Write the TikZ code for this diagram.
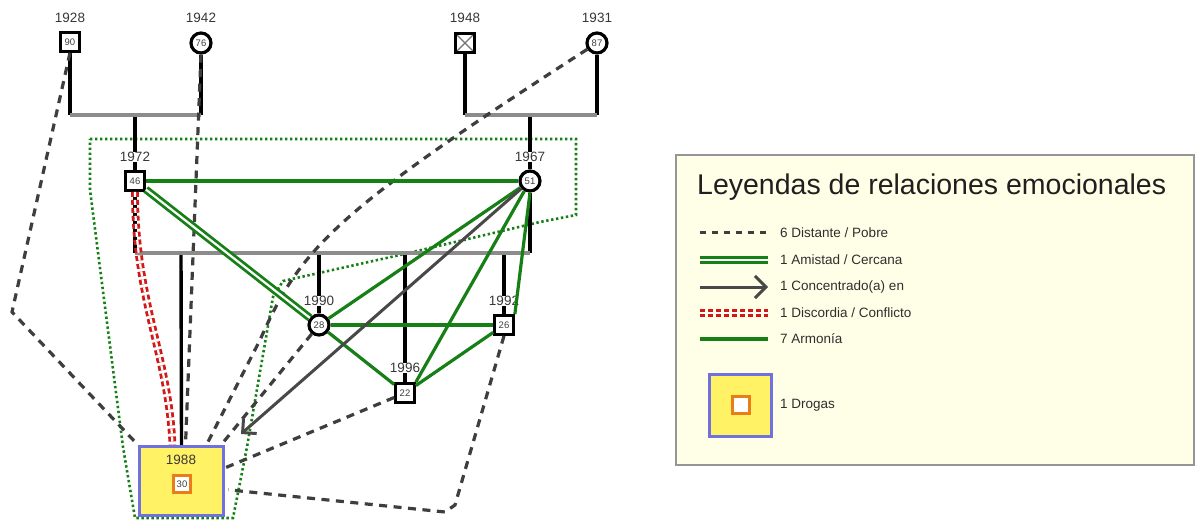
\documentclass[tikz,border=0pt]{standalone}
\usepackage{fontspec}
\setmainfont{Liberation Sans}
\usetikzlibrary{arrows.meta,calc}

\definecolor{harmony}{RGB}{22,128,22}
\definecolor{distant}{RGB}{62,62,62}
\definecolor{focusline}{RGB}{72,72,72}
\definecolor{conflict}{RGB}{210,25,25}
\definecolor{bond}{RGB}{140,140,140}
\definecolor{legendbg}{RGB}{255,255,232}
\definecolor{legendedge}{RGB}{150,150,150}
\definecolor{drugfill}{RGB}{255,242,100}
\definecolor{drugedge}{RGB}{112,112,222}
\definecolor{drugmark}{RGB}{235,125,25}

\tikzset{
  person/.style={draw=black, line width=3.2pt, fill=white, inner sep=0pt,
    text=black!75, font=\fontsize{9.5}{10}\selectfont},
  male/.style={person, rectangle, minimum size=18.5pt},
  female/.style={person, circle, minimum size=20pt},
  deceased/.style={path picture={
      \draw[black!55, line width=1.1pt]
        (path picture bounding box.north west) -- (path picture bounding box.south east)
        (path picture bounding box.north east) -- (path picture bounding box.south west);}},
  year/.style={font=\fontsize{13.5}{14}\selectfont, text=black!78, fill=white, inner sep=0.6pt},
  descent/.style={black, line width=3.4pt},
  union/.style={bond, line width=3.2pt},
  distantrel/.style={distant, line width=3.2pt, dash pattern=on 8pt off 6.5pt},
  harmonyrel/.style={harmony, line width=3.2pt},
  friendrel/.style={harmony, line width=2.8pt, double=white, double distance=2.2pt},
  conflictrel/.style={conflict, line width=2.8pt, double=white, double distance=2.2pt,
    dash pattern=on 5pt off 3pt},
  focusrel/.style={focusline, line width=3pt, -{Straight Barb[length=10pt,width=20pt]}},
  household/.style={harmony, line width=2.6pt, dash pattern=on 2.4pt off 2.6pt},
  drugbox/.style={draw=drugedge, line width=3.4pt, fill=drugfill, inner sep=0pt},
  drugmarkbox/.style={draw=drugmark, line width=3.4pt, fill=white, inner sep=0pt,
    text=black!75, font=\fontsize{9.5}{10}\selectfont},
  legendtext/.style={anchor=west, font=\fontsize{13.5}{14}\selectfont, text=black!82, inner sep=0pt},
}

\begin{document}
\begin{tikzpicture}[x=1pt, y=-1pt]
\useasboundingbox (0,0) rectangle (1196,521);
\fill[white] (0,0) rectangle (1196,521);

% household boundary
\draw[household] (90,139) -- (576,139) -- (576,215) -- (540,222) -- (400,255)
  -- (283,281) -- (273,297) -- (247,447) -- (233,518) -- (135,518) -- (123,447)
  -- (90,190) -- cycle;

% people
\node[male]   (n1928) at (70,42)  {90};
\node[female] (n1942) at (201,43) {76};
\node[male, deceased] (n1948) at (465,43) {};
\node[female] (n1931) at (597,43) {87};
\node[male]   (n1972) at (135,181) {46};
\node[female] (n1967) at (530,181) {51};
\node[female] (n1990) at (319,325) {28};
\node[male]   (n1992) at (504,325) {26};
\node[male]   (n1996) at (405,393) {22};
\node[drugbox, minimum width=84pt, minimum height=69pt] (n1988) at (181.5,481) {};
\node[drugmarkbox, minimum size=17.5pt] (n1988in) at (182,484) {30};

% family lines
\coordinate (u1l) at (70,115);  \coordinate (u1r) at (201,115); \coordinate (u1m) at (135,115);
\coordinate (u2l) at (465,115); \coordinate (u2r) at (597,115); \coordinate (u2m) at (530,115);
\coordinate (m1l) at (135,253); \coordinate (m1r) at (530,253);
\coordinate (c1988) at (181,253); \coordinate (c1990) at (319,253);
\coordinate (c1996) at (405,253); \coordinate (c1992) at (504,253);

\draw[descent] (n1928) -- (u1l);
\draw[descent] (n1942) -- (u1r);
\draw[descent] (u1m) -- (n1972);
\draw[descent] (n1948) -- (u2l);
\draw[descent] (n1931) -- (u2r);
\draw[descent] (u2m) -- (n1967);
\draw[descent] (n1972) -- (m1l);
\draw[descent] (n1967) -- (m1r);
\draw[descent] (c1988) -- (n1988.north);
\draw[descent] (c1990) -- (n1990);
\draw[descent] (c1996) -- (n1996);
\draw[descent] (c1992) -- (n1992);
\draw[union] (u1l) -- (u1r);
\draw[union] (u2l) -- (u2r);
\draw[union] (m1l) -- (m1r);

% birth years
\node[year] (y1928) at (70,18)  {1928};
\node[year] (y1942) at (201,18) {1942};
\node[year] (y1948) at (465,18) {1948};
\node[year] (y1931) at (597,18) {1931};
\node[year] (y1972) at (135,157) {1972};
\node[year] (y1967) at (530,157) {1967};
\node[year] (y1990) at (319,301) {1990};
\node[year] (y1992) at (504,301) {1992};
\node[year] (y1996) at (405,368) {1996};
\node[year, fill=none] (y1988) at (181,460) {1988};

% emotional relations
\coordinate (focuspt) at (241,434);
\coordinate (bend1928) at (12,312);
\coordinate (bend1992a) at (455,505);
\coordinate (bend1992b) at (445,512);

\draw[distantrel] (n1928.south) -- (bend1928) -- (n1988.north west);
\draw[distantrel] (n1942.south) -- ($(n1988.north)+(4,0)$);
\draw[distantrel] (n1931) .. controls (330,215) and (300,250) .. (260,340)
  -- ($(n1988.north)+(25,0)$);
\draw[distantrel] (n1990) -- ($(n1988.north east)+(-4,0)$);
\draw[distantrel] (n1996) -- ($(n1988.north east)+(0,23)$);
\draw[distantrel] (n1992.south) -- (bend1992a) -- (bend1992b) -- ($(n1988.north east)+(3,45)$);

\draw[harmonyrel] (n1972) -- (n1967);
\draw[harmonyrel] (n1967) -- (n1990);
\draw[harmonyrel] (n1967.south) -- (n1992.north east);
\draw[harmonyrel] (n1967) -- (n1996.north east);
\draw[harmonyrel] (n1990) -- (n1992);
\draw[harmonyrel] (n1990) -- (n1996);
\draw[harmonyrel] (n1992) -- (n1996);
\draw[friendrel] (n1972) -- (n1990);
\draw[conflictrel] (n1972.south) .. controls +(0,110) and +(-4,-90) .. ($(n1988.north)+(-9,0)$);
\draw[focusrel] (n1967) -- (focuspt);

% legend
\draw[legendedge, line width=1.4pt, fill=legendbg] (676,155) rectangle (1194,465);
\node[anchor=base west, font=\fontsize{28.5}{30}\selectfont, text=black!88, inner sep=0pt]
  (legtitle) at (697,195) {Leyendas de relaciones emocionales};

\draw[distant, line width=3pt, dash pattern=on 6pt off 6pt] (700,233) -- (770,233);
\node[legendtext] (leg1) at (780,233) {6 Distante / Pobre};
\draw[friendrel] (700,260) -- (768,260);
\node[legendtext] (leg2) at (780,260) {1 Amistad / Cercana};
\draw[focusline, line width=3pt, -{Straight Barb[length=11pt,width=22pt]}] (700,287) -- (768,287);
\node[legendtext] (leg3) at (780,287) {1 Concentrado(a) en};
\draw[conflictrel] (700,313) -- (768,313);
\node[legendtext] (leg4) at (780,313) {1 Discordia / Conflicto};
\draw[harmonyrel] (700,339) -- (768,339);
\node[legendtext] (leg5) at (780,339) {7 Armonía};
\node[drugbox, minimum size=62pt] (legdrug) at (740.5,405.5) {};
\node[drugmarkbox, minimum size=17pt] (legdrugin) at (741,405) {};
\node[legendtext] (leg6) at (780,405) {1 Drogas};
\end{tikzpicture}
\end{document}
